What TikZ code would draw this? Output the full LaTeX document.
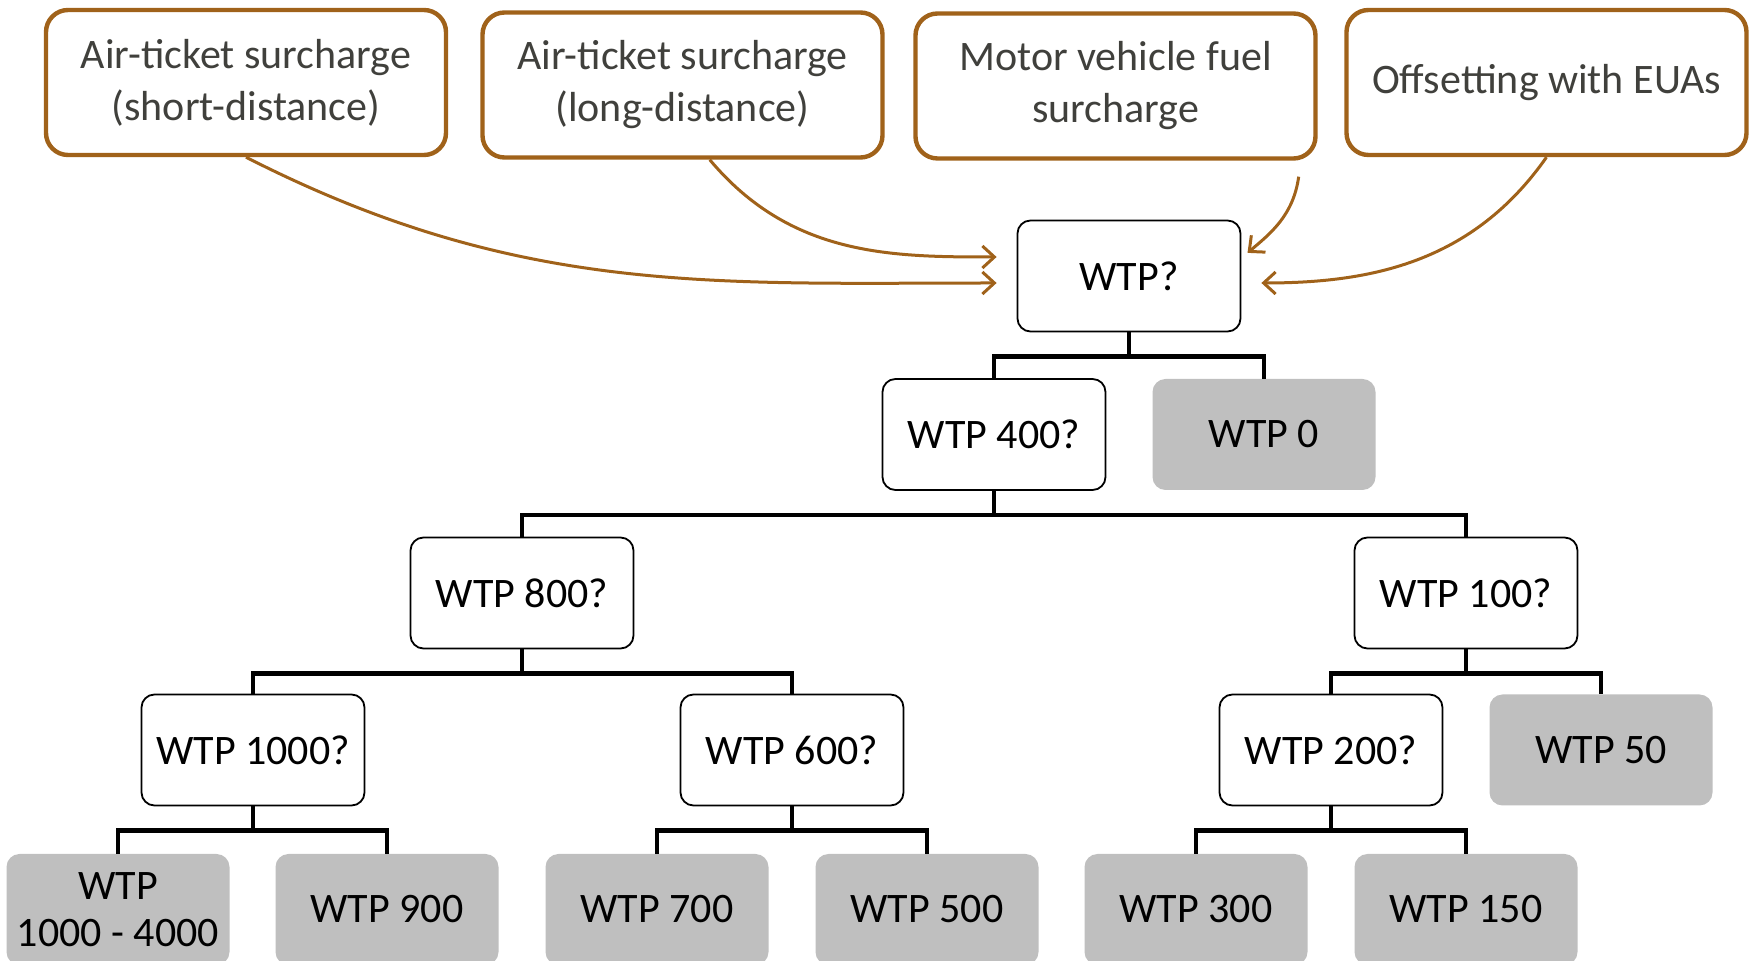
\documentclass[tikz,border=0pt]{standalone}
\usepackage{fontspec}
\setmainfont{Carlito}
\usepackage{tikz}
\usetikzlibrary{arrows.meta}

\definecolor{brownline}{RGB}{160,98,26}
\definecolor{leafgray}{RGB}{191,191,191}
\definecolor{textgray}{RGB}{64,64,60}

\begin{document}
\begin{tikzpicture}[x=0.5pt,y=0.5pt,>={Straight Barb[length=6pt,width=11pt]},
		policy/.style={draw=brownline,line width=2.2pt,rounded corners=11pt,fill=white,text=textgray,minimum width=200pt,minimum height=72.5pt,align=center,font=\fontsize{21}{26}\selectfont},
		ask/.style={draw=black,line width=0.9pt,rounded corners=6.5pt,fill=white,minimum width=111.5pt,minimum height=55.5pt,align=center,font=\fontsize{21}{25.6}\selectfont},
		leaf/.style={fill=leafgray,rounded corners=6.5pt,minimum width=111.5pt,minimum height=55.5pt,align=center,font=\fontsize{21}{23.5}\selectfont},
		tree/.style={draw=black,line width=2.2pt,to path={(\tikztostart.south) -- ++(0,-12pt) -| (\tikztotarget.north)}},
		feed/.style={->,draw=brownline,line width=1.5pt,shorten >=10pt}]
			
			\useasboundingbox (0,0) rectangle (1753,-961);
			
			\node[policy] (short) at (246,-82.5)   {Air-ticket surcharge\\(short-distance)};
			\node[policy] (long)  at (682.5,-85)   {Air-ticket surcharge\\(long-distance)};
			\node[policy] (fuel)  at (1115.5,-86)  {Motor vehicle fuel\\surcharge};
			\node[policy] (eua)   at (1546.5,-82.5) {Offsetting with EUAs};
			
			\node[ask]  (q)     at (1129,-276)   {WTP?};
			\node[ask]  (w400)  at (994,-434.5)  {WTP 400?};
			\node[leaf] (w0)    at (1264,-434.5) {WTP 0};
			\node[ask]  (w800)  at (522,-593)    {WTP 800?};
			\node[ask]  (w100)  at (1466,-593)   {WTP 100?};
			\node[ask]  (w1000) at (253,-750)    {WTP 1000?};
			\node[ask]  (w600)  at (792,-750)    {WTP 600?};
			\node[ask]  (w200)  at (1331,-750)   {WTP 200?};
			\node[leaf] (w50)   at (1601,-750)   {WTP 50};
			\node[leaf] (w4000) at (118,-909.5)  {WTP\\1000 - 4000};
			\node[leaf] (w900)  at (387,-909.5)  {WTP 900};
			\node[leaf] (w700)  at (657,-909.5)  {WTP 700};
			\node[leaf] (w500)  at (927,-909.5)  {WTP 500};
			\node[leaf] (w300)  at (1196,-909.5) {WTP 300};
			\node[leaf] (w150)  at (1466,-909.5) {WTP 150};
			
			\path	(q)		edge[tree] (w400)	edge[tree] (w0);
			\path	(w400)	edge[tree] (w800)	edge[tree] (w100);
			\path	(w800)	edge[tree] (w1000)	edge[tree] (w600);
			\path	(w100)	edge[tree] (w200)	edge[tree] (w50);
			\path	(w1000)	edge[tree] (w4000)	edge[tree] (w900);
			\path	(w600)	edge[tree] (w700)	edge[tree] (w500);
			\path	(w200)	edge[tree] (w300)	edge[tree] (w150);
			
			\draw[feed]	(short.south)	to[out=-27,in=180]	([yshift=-3.5pt]q.west);
			\draw[feed]	(long.south east) ++(-87.5pt,0)	to[out=-50,in=180]	([yshift=9.5pt]q.west);
			\draw[feed,shorten >=4pt]	(fuel.south east) ++(-9.5pt,-8pt)	to[out=-98,in=40]	([yshift=9pt]q.east);
			\draw[feed]	(eua.south)	to[out=-125,in=0]	([yshift=-3.5pt]q.east);
		\end{tikzpicture}
\end{document}
